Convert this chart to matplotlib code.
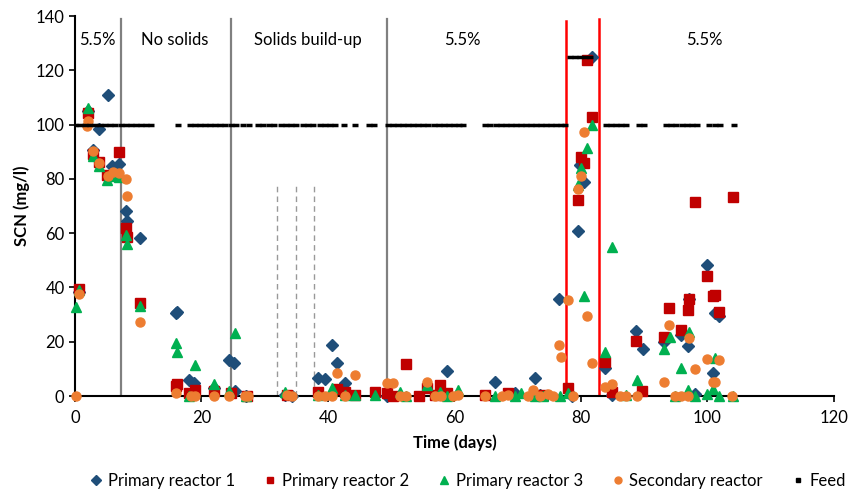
import matplotlib.pyplot as plt
from matplotlib.lines import Line2D

plt.rcParams['font.family'] = ['Lato', 'DejaVu Sans']

# Primary reactor 1 (blue diamonds)
r1_days = [0.6, 2.0, 2.8, 3.8, 5.2, 5.8, 7.0, 8.1, 8.3, 10.3, 16.0, 16.2, 18.1, 18.8,
           22.0, 24.3, 25.1, 25.3, 27.0, 33.2, 34.3, 38.5, 39.5, 40.6, 41.4, 42.7,
           49.3, 58.8, 66.4, 69.6, 72.7, 73.5, 76.5, 78.6, 79.6, 79.8, 80.5, 81.7,
           83.8, 84.9, 88.7, 89.8, 93.1, 95.8, 96.9, 97.1, 98.1, 99.9, 100.9, 101.2, 101.8]
r1_scn = [38.5, 105, 90.5, 98.3, 110.9, 84.7, 85.5, 68.3, 64.6, 58.3, 30.5, 31.0, 5.9, 4.7,
          3.0, 13.3, 12.3, 2.0, 0, 0.5, 0, 6.7, 6.3, 18.8, 12.0, 4.7,
          0, 9.2, 5.3, 1.2, 6.5, 0.5, 35.6, 0, 60.9, 85.1, 79.0, 125.0,
          10.4, 0.5, 24.0, 17.5, 20.0, 22.5, 18.5, 35.7, 0.6, 48.3, 8.4, 30.5, 29.5]

# Primary reactor 2 (red squares)
r2_days = [0.6, 2.0, 2.8, 3.85, 5.0, 7.0, 8.0, 8.3, 10.3, 16.0, 16.2, 18.1, 19.0, 22.0,
           24.6, 27.2, 33.5, 38.5, 41.4, 42.7, 44.3, 47.4, 49.3, 50.3, 52.4, 54.4, 55.6,
           56.9, 57.7, 58.8, 64.8, 68.5, 74.0, 78.0, 79.6, 80.0, 80.5, 80.9, 81.7, 83.8,
           84.9, 88.7, 89.7, 93.1, 94.0, 95.8, 96.9, 97.1, 98.1, 99.9, 100.9, 101.2, 101.9, 104.0]
r2_scn = [39.3, 104.2, 89, 86.3, 81.4, 90, 61.8, 58.4, 34.2, 3.8, 4.4, 1, 2.2, 2,
          1, 0, 0.5, 1.6, 2.5, 1.6, 0.5, 1.6, 1.2, 0, 11.8, 0, 3,
          0.5, 4, 1.2, 0.5, 1, 0.5, 2.8, 72.2, 87.9, 86, 123.8, 102.9, 12.4,
          1.4, 20.3, 1.8, 21.6, 32.3, 24.5, 31.7, 35.7, 71.6, 44.2, 36.9, 37.2, 30.8, 73.2]

# Primary reactor 3 (green triangles)
r3_days = [0.16, 0.6, 2.0, 2.8, 3.85, 5.0, 6.0, 7.0, 8.0, 8.3, 10.3, 15.9, 16.2, 18.1,
           19.0, 22.0, 24.3, 25.3, 27.0, 33.2, 38.5, 40.6, 42.7, 44.3, 47.4, 51.4, 52.4,
           55.6, 57.7, 58.8, 60.6, 66.4, 69.6, 70.6, 72.7, 74.0, 76.7, 78.0, 79.6, 80.0,
           80.5, 80.9, 81.7, 83.8, 84.9, 87.2, 88.8, 93.1, 94.1, 94.9, 95.8, 96.9, 97.1,
           98.1, 99.9, 100.9, 101.2, 101.8, 104.0]
r3_scn = [32.7, 39, 106, 88.4, 84.7, 79.6, 81, 80.8, 59.3, 56, 33.2, 19.4, 16.3, 0,
          11.4, 4.4, 2.0, 23.1, 0, 1.5, 0.5, 2.8, 0.5, 0.4, 0.5, 1.6, 0,
          4, 1.6, 0, 2.2, 0, 0, 1.2, 0, 0, 0, 1.2, 77.7, 83.9,
          37.0, 91.3, 99.8, 16.3, 54.8, 0.5, 5.9, 17.2, 21.9, 0, 10.2, 2.2, 23.7,
          0, 0.6, 2.5, 13.9, 0, 0]

# Secondary reactor (orange circles)
sec_days = [0.16, 0.7, 1.85, 2.0, 2.8, 3.85, 5.2, 6.05, 7.0, 8.06, 8.3, 10.3, 15.9, 18.3,
            19.0, 22.0, 24.3, 26.9, 27.4, 33.5, 34.3, 38.5, 39.5, 40.6, 41.4, 42.7, 44.3,
            49.3, 50.3, 51.4, 52.4, 55.6, 56.9, 57.9, 59.8, 60.6, 64.8, 67.5, 68.5, 71.7,
            72.5, 73.6, 74.8, 75.6, 76.6, 76.9, 78.0, 78.7, 79.6, 80.0, 80.5, 80.9, 81.7,
            83.8, 84.9, 86.2, 87.2, 88.8, 93.1, 94.0, 94.9, 95.9, 96.9, 97.1, 98.1, 99.9,
            100.9, 101.2, 101.9, 103.9]
sec_scn = [0, 37.6, 99.6, 101.4, 90.4, 86, 81, 82.6, 82.3, 80, 73.7, 27.4, 1, 0,
           0, 0, 0, 0, 0, 0.5, 0, 0, 0, 0, 8.4, 0, 7.7,
           4.7, 4.7, 0, 0, 5.3, 0, 0, 0, 0.5, 0, 0, 0.5, 0,
           2.2, 0, 0.6, 0, 18.8, 14.5, 35.4, 0, 76.3, 81, 97.4, 29.5, 12,
           3.4, 4.3, 0, 0, 0, 5.3, 26.2, 0, 0, 0, 21.3, 9.8, 13.5,
           5.3, 5.3, 13.3, 0]

# Feed concentration
feed_days = [0, 0.8, 1.6, 2.4, 3.2, 4, 4.8, 5.6, 6.4, 7.2, 8, 8.8, 9.6, 10.4, 11.2, 12,
             16.3, 18.2, 19, 19.8, 20.6, 21.4, 22.2, 23, 23.8, 24.6, 25.4, 26.5, 27.5,
             29, 29.8, 30.6, 31.4, 32.5, 33.3, 34.1, 34.9, 36, 36.8, 37.6, 38.7, 39.5,
             40.3, 41.1, 42.6, 44.3, 46.5, 47.3, 49.5, 50.3, 51.1, 51.9, 52.7, 53.5,
             54.3, 55.1, 55.9, 56.7, 57.5, 58.3, 59.1, 59.9, 60.7, 61.3,
             64.9, 65.7, 66.5, 67.3, 68.1, 68.9, 69.7, 70.5, 71.3, 72.1, 72.9, 73.7,
             74.5, 75.3, 76.1, 76.9, 77.5,
             84, 84.8, 85.6, 86.4, 87.2, 89.2, 90, 93.5, 94.3, 95.1, 96, 96.8, 97.6,
             98.4, 100.3, 101.2, 102, 104.2]
feed_scn = [100] * len(feed_days)
feed_hi_days = [78.3, 79.1, 79.9, 80.7, 81.5]
feed_hi_scn = [125] * len(feed_hi_days)

# phase boundaries
phase_lines = [7.3, 24.7, 49.3]
event_lines = [31.9, 34.9, 37.8]
red_lines = [77.6, 82.8]

fig = plt.figure(figsize=(8.57, 4.96), dpi=100)
ax = fig.add_axes([0.0875, 0.2016, 0.8855, 0.7661])

for d in phase_lines:
    ax.plot([d, d], [0, 139], color='#808080', lw=1.6, zorder=1)
for d in event_lines:
    ax.plot([d, d], [0, 78], color='#999999', lw=1.0, ls=(0, (4, 3)), zorder=1)
ax.plot([red_lines[0]] * 2, [0, 138], color='#FF0000', lw=1.8, zorder=1)
ax.plot([red_lines[1]] * 2, [0, 139], color='#FF0000', lw=1.8, zorder=1)

ms = 6.5
ax.plot(r1_days, r1_scn, 'D', color='#1F4E79', ms=ms - 0.5, ls='none', zorder=3, clip_on=False)
ax.plot(r2_days, r2_scn, 's', color='#C00000', ms=ms, ls='none', zorder=3, clip_on=False)
ax.plot(r3_days, r3_scn, '^', color='#00B050', ms=ms + 1, ls='none', zorder=3, clip_on=False)
ax.plot(sec_days, sec_scn, 'o', color='#ED7D31', ms=ms, ls='none', zorder=3, clip_on=False)
ax.plot(feed_days, feed_scn, '_', color='black', ms=4.5, mew=2.5, ls='none', zorder=4)
ax.plot(feed_hi_days, feed_hi_scn, '_', color='black', ms=4.5, mew=2.5, ls='none', zorder=4)

# phase labels
for x, lab in [(3.6, '5.5%'), (15.8, 'No solids'), (36.8, 'Solids build-up'),
               (61.3, '5.5%'), (99.5, '5.5%')]:
    ax.text(x, 131, lab, ha='center', va='center', fontsize=12)

ax.set_xlim(0, 120)
ax.set_ylim(0, 140)
ax.set_xticks(range(0, 121, 20))
ax.set_yticks(range(0, 141, 20))
ax.tick_params(labelsize=12, direction='out', length=4, width=1.2)
ax.tick_params(axis='x', pad=6)
ax.spines['top'].set_visible(False)
ax.spines['right'].set_visible(False)
ax.spines['left'].set_linewidth(1.5)
ax.spines['bottom'].set_linewidth(1.5)
ax.set_xlabel('Time (days)', fontsize=12, fontweight='bold', labelpad=6)
ax.set_ylabel('SCN (mg/l)', fontsize=12, fontweight='bold', labelpad=4)

handles = [
    Line2D([], [], marker='D', color='#1F4E79', ls='none', ms=5),
    Line2D([], [], marker='s', color='#C00000', ls='none', ms=5),
    Line2D([], [], marker='^', color='#00B050', ls='none', ms=6),
    Line2D([], [], marker='o', color='#ED7D31', ls='none', ms=5),
    Line2D([], [], marker='s', color='black', ls='none', ms=3),
]
labels = ['Primary reactor 1', 'Primary reactor 2', 'Primary reactor 3',
          'Secondary reactor', 'Feed']
fig.legend(handles, labels, loc='center', bbox_to_anchor=(0.545, 0.03), ncol=5,
           frameon=False, fontsize=12, handletextpad=0.2, columnspacing=1.6,
           handlelength=1.0)

plt.savefig('out.png', dpi=100)
plt.close()
